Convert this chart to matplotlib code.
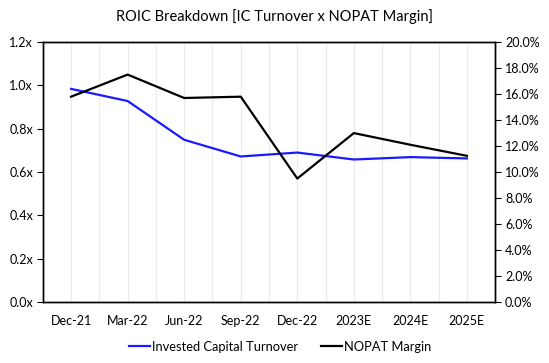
import numpy as np
import matplotlib
matplotlib.use("Agg")
import matplotlib.pyplot as plt
from matplotlib.ticker import FuncFormatter, MultipleLocator

plt.rcParams["font.family"] = ["Lato", "DejaVu Sans"]

periods = ["Dec-21", "Mar-22", "Jun-22", "Sep-22", "Dec-22", "2023E", "2024E", "2025E"]
ic_turnover = [0.984, 0.928, 0.749, 0.672, 0.690, 0.658, 0.669, 0.663]
nopat_margin = [15.8, 17.5, 15.7, 15.8, 9.5, 13.0, 12.1, 11.25]

fig = plt.figure(figsize=(5.49, 3.63), dpi=100)
ax = fig.add_axes([0.078, 0.168, 0.824, 0.716])
ax2 = ax.twinx()

x = np.arange(len(periods))

l1, = ax.plot(x, ic_turnover, color="#1A1AFF", linewidth=1.6,
              label="Invested Capital Turnover")
l2, = ax2.plot(x, nopat_margin, color="black", linewidth=1.6,
               label="NOPAT Margin")

ax.set_xlim(-0.5, len(periods) - 0.5)
ax.set_ylim(0, 1.2)
ax2.set_ylim(0, 20)

ax.set_xticks(x)
ax.set_xticklabels(periods)
ax.set_xticks(np.arange(0, len(periods) - 0.9, 0.5), minor=True)
ax.grid(axis="x", which="both", color="#EBEBEB", linewidth=0.8)
ax.set_axisbelow(True)

ax.yaxis.set_major_locator(MultipleLocator(0.2))
ax.yaxis.set_major_formatter(FuncFormatter(lambda v, p: f"{v:.1f}x"))
ax2.yaxis.set_major_locator(MultipleLocator(2))
ax2.yaxis.set_major_formatter(FuncFormatter(lambda v, p: f"{v:.1f}%"))

ax.tick_params(axis="x", which="both", length=0, labelsize=9, pad=9)
ax.tick_params(axis="y", length=4, width=0.8, labelsize=9, pad=3)
ax2.tick_params(axis="y", length=4, width=0.8, labelsize=9, pad=3)

for a in (ax, ax2):
    for spine in a.spines.values():
        spine.set_color("black")
        spine.set_linewidth(1.0)

fig.suptitle("ROIC Breakdown [IC Turnover x NOPAT Margin]",
             x=0.5, y=0.975, fontsize=10.5)

fig.legend(handles=[l1, l2], loc="center", bbox_to_anchor=(0.51, 0.045),
           ncol=2, frameon=False, fontsize=9.3, handlelength=1.6,
           handletextpad=0.15, columnspacing=1.8)

fig.savefig("out.png", dpi=100)
